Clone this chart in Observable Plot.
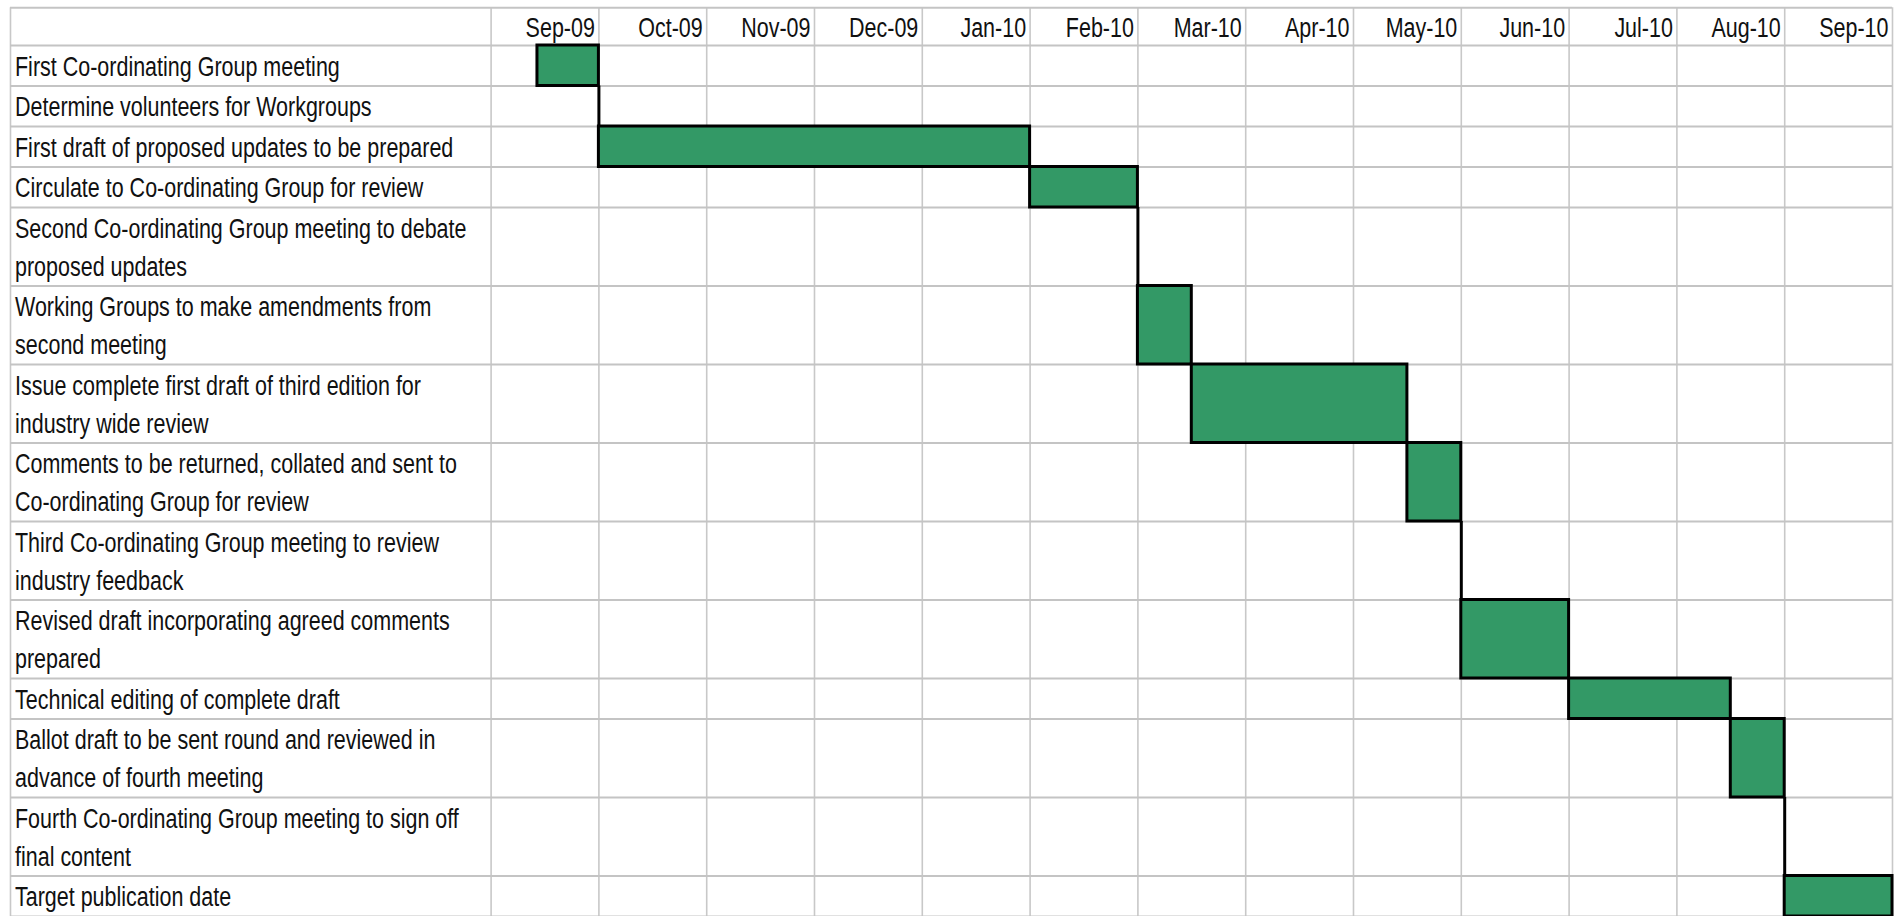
<!DOCTYPE html>
<html>
<head>
<meta charset="utf-8">
<script src="https://cdn.jsdelivr.net/npm/d3@7"></script>
<script src="https://cdn.jsdelivr.net/npm/@observablehq/plot@0.6"></script>
<style>
  html, body { margin: 0; padding: 0; background: #fff; overflow: hidden; }
  #chart svg { display: block; }
</style>
</head>
<body>
<div id="chart"></div>
<script>
// ---- data ----
const tasks = [
  "First Co-ordinating Group meeting",
  "Determine volunteers for Workgroups",
  "First draft of proposed updates to be prepared",
  "Circulate to Co-ordinating Group for review",
  "Second Co-ordinating Group meeting to debate\nproposed updates",
  "Working Groups to make amendments from\nsecond meeting",
  "Issue complete first draft of third edition for\nindustry wide review",
  "Comments to be returned, collated and sent to\nCo-ordinating Group for review",
  "Third Co-ordinating Group meeting to review\nindustry feedback",
  "Revised draft incorporating agreed comments\nprepared",
  "Technical editing of complete draft",
  "Ballot draft to be sent round and reviewed in\nadvance of fourth meeting",
  "Fourth Co-ordinating Group meeting to sign off\nfinal content",
  "Target publication date"
];
// start / end, in months counted from the start of Sep-09
const starts = [0.43, 1, 1, 5, 6, 6, 6.5, 8.5, 9, 9, 10, 11.5, 12, 12];
const ends   = [1, 1, 5, 6, 6, 6.5, 8.5, 9, 9, 10, 11.5, 12, 12, 13];
const months = ["Sep-09", "Oct-09", "Nov-09", "Dec-09", "Jan-10", "Feb-10", "Mar-10",
                "Apr-10", "May-10", "Jun-10", "Jul-10", "Aug-10", "Sep-10"];

// ---- layout ----
const W = 1898, H = 916;
const tableLeft = 10, labelRight = 490.6, tableRight = 1892, tableTop = 7.3;
const headerH = 37.7;
const rowH = n => (n === 1 ? 40.5 : 78.5);
const colW = (tableRight - labelRight) / months.length;
const labelCols = (labelRight - tableLeft) / colW;
const FS = 21.5, SY = 1.32;

let acc = headerH;
const rows = tasks.map((t, i) => {
  const n = t.split("\n").length;
  const top = acc;
  acc += rowH(n);
  return { task: t, start: starts[i], end: ends[i], top, bottom: acc };
});
const total = acc;
const hLines = [0, headerH, ...rows.map(r => r.bottom)];
const vLines = [-labelCols, ...d3.range(months.length + 1)];

const chart = Plot.plot({
  width: W,
  height: H,
  marginTop: 0,
  marginBottom: 0,
  marginLeft: tableLeft,
  marginRight: W - tableRight,
  x: { domain: [-labelCols, months.length], axis: null },
  y: { domain: [0, total], range: [tableTop, tableTop + total], axis: null },
  style: { fontFamily: "'Liberation Sans', Arial, sans-serif", fontSize: FS + "px", background: "#fff", color: "#111" },
  marks: [
    Plot.ruleX(vLines, { x: d => d, y1: () => 0, y2: () => total, stroke: "#c8c8c8", strokeWidth: 1.6 }),
    Plot.ruleY(hLines, { y: d => d, x1: () => -labelCols, x2: () => months.length, stroke: "#c4c4c4", strokeWidth: 2 }),
    Plot.rect(rows.filter(r => r.end > r.start), {
      x1: "start", x2: "end", y1: "top", y2: "bottom",
      fill: "#339966", stroke: "#000", strokeWidth: 3
    }),
    Plot.ruleX(rows.filter(r => r.end === r.start), {
      x: "start", y1: "top", y2: "bottom", stroke: "#000", strokeWidth: 3
    }),
    Plot.text(rows, {
      x: () => -labelCols, y: "bottom", text: "task",
      textAnchor: "start", lineAnchor: "bottom", lineHeight: 38 / (FS * SY),
      dx: 4.5, dy: -10.5, fontSize: FS, fill: "#111"
    }),
    Plot.text(months, {
      x: (d, i) => i + 1, y: () => headerH, text: d => d,
      textAnchor: "end", lineAnchor: "bottom",
      dx: -4, dy: -9, fontSize: FS, fill: "#111"
    })
  ]
});

// stretch the glyphs vertically (the reference text is taller than it is wide)
chart.querySelectorAll("text").forEach(t => {
  const tr = t.getAttribute("transform");
  if (tr) {
    t.setAttribute("transform", tr + ` scale(1,${SY})`);
  } else {
    const x = parseFloat(t.getAttribute("x")) || 0, y = parseFloat(t.getAttribute("y")) || 0;
    t.setAttribute("transform", `translate(${x},${y}) scale(1,${SY}) translate(${-x},${-y})`);
  }
});

document.getElementById("chart").appendChild(chart);
</script>
</body>
</html>
